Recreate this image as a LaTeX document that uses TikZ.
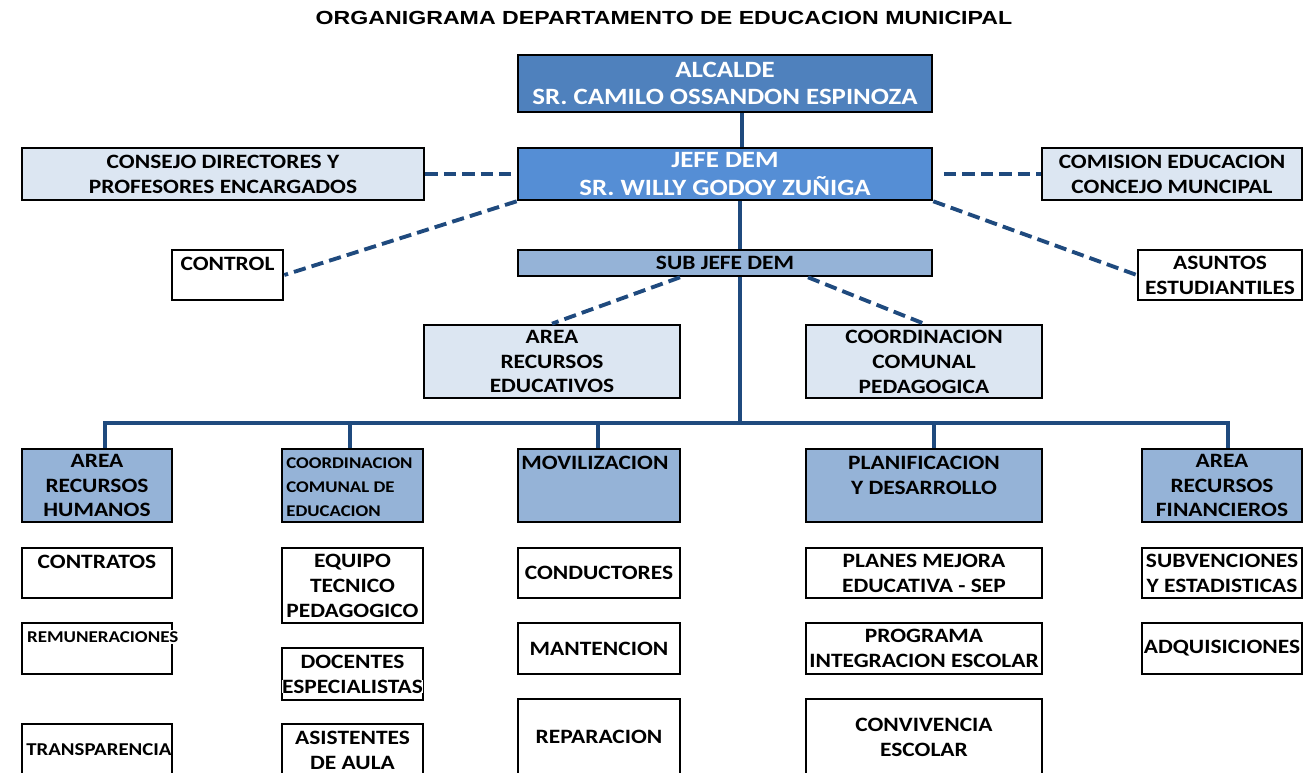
\documentclass[tikz,border=0pt]{standalone}
\usepackage{fontspec}
\setmainfont{Carlito}[FakeStretch=1.15]
\newfontfamily\titlefont{Liberation Sans}[FakeStretch=1.22]
\usepackage{tikz}
\usetikzlibrary{calc}
\usepackage{xcolor}

\definecolor{deplink}{HTML}{1F4A7E}
\definecolor{topblue}{HTML}{4F81BD}
\definecolor{jefeblue}{HTML}{558ED5}
\definecolor{midblue}{HTML}{95B3D7}
\definecolor{paleblue}{HTML}{DCE6F2}

% text that runs over a box border
\newcommand\overtext[1]{{\setlength{\fboxsep}{0pt}\colorbox{white}{#1}}}

\tikzset{sz/.style 2 args={minimum width=#1*0.02cm,minimum height=#2*0.02cm}}

\begin{document}
\begin{tikzpicture}[x=0.02cm,y=-0.02cm,
box/.style={draw=black,line width=1.5pt,inner sep=0pt,align=center,
  font=\bfseries\fontsize{11.6}{14.2}\selectfont},
txt/.style={inner sep=0pt,align=center,font=\bfseries\fontsize{11.6}{14.2}\selectfont},
big/.style={font=\bfseries\fontsize{13.3}{15.5}\selectfont,text=white},
link/.style={draw=deplink,line width=2.8pt},
dlink/.style={draw=deplink,line width=2.2pt,dash pattern=on 7pt off 3.5pt}]

\useasboundingbox (0,0) rectangle (1304,773);

\node (title) at (664,18) {\titlefont\bfseries\fontsize{10.8}{12}\selectfont ORGANIGRAMA DEPARTAMENTO DE EDUCACION MUNICIPAL};

% top of the chart
\node[box,big,fill=topblue,sz={414}{57}] (alcalde) at (725,83.5) {ALCALDE\\SR. CAMILO OSSANDON ESPINOZA};
\node[box,big,fill=jefeblue,sz={414}{52}] (jefe) at (725,174) {JEFE DEM\\SR. WILLY GODOY ZU\~NIGA};
\node[box,fill=paleblue,sz={402}{52}] (consejo) at (223,174) {CONSEJO DIRECTORES Y\\PROFESORES ENCARGADOS};
\node[box,fill=paleblue,sz={260}{52}] (comision) at (1172,174) {COMISION EDUCACION\\CONCEJO MUNCIPAL};
\node[box,fill=white,sz={111}{50}] (control) at (227.5,275) {};
\node[txt] (control-t) at (227.5,264) {CONTROL};
\node[box,fill=midblue,sz={414}{26}] (subjefe) at (725,263) {SUB JEFE DEM};
\node[box,fill=white,sz={164}{50}] (asuntos) at (1220,275) {ASUNTOS\\ESTUDIANTILES};
\node[box,fill=paleblue,sz={256}{73}] (areaeduc) at (552,361.5) {AREA\\RECURSOS\\EDUCATIVOS};
\node[box,fill=paleblue,sz={236}{73}] (coordped) at (924,361.5) {COORDINACION\\COMUNAL\\PEDAGOGICA};

% departments
\node[box,fill=midblue,sz={150}{73}] (rrhh) at (97,485.5) {AREA\\RECURSOS\\HUMANOS};
\node[box,fill=midblue,sz={141}{73}] (coordedu) at (352.5,485.5) {};
\node[txt,anchor=west,align=left,font=\bfseries\fontsize{9.3}{13.6}\selectfont] (coordedu-t) at (286,487) {COORDINACION\\COMUNAL DE\\EDUCACION};
\node[box,fill=midblue,sz={162}{73}] (moviliz) at (599,485.5) {};
\node[txt,anchor=west] (moviliz-t) at (521,463) {MOVILIZACION};
\node[box,fill=midblue,sz={236}{73}] (planif) at (924,485.5) {};
\node[txt] (planif-t) at (924,475) {PLANIFICACION\\Y DESARROLLO};
\node[box,fill=midblue,sz={160}{73}] (finan) at (1222,485.5) {AREA\\RECURSOS\\FINANCIEROS};

% units
\node[box,sz={150}{50}] (contratos) at (97,573) {};
\node[txt] (contratos-t) at (97,562) {CONTRATOS};
\node[box,sz={150}{51}] (remun) at (97,648.5) {};
\node[txt,anchor=west,fill=white,inner sep=1pt,font=\bfseries\fontsize{9.4}{10}\selectfont] (remun-t) at (25,637) {REMUNERACIONES};
\node[box,sz={150}{56}] (transp) at (97,752) {};
\node[txt,anchor=west,font=\bfseries\fontsize{10.3}{12}\selectfont] (transp-t) at (26,750) {TRANSPARENCIA};

\node[box,sz={141}{75}] (equipo) at (352.5,585.5) {EQUIPO\\TECNICO\\PEDAGOGICO};
\node[box,sz={141}{52}] (docentes) at (352.5,674) {DOCENTES\\\overtext{ESPECIALISTAS}};
\node[box,sz={141}{56}] (asist) at (352.5,752) {};
\node[txt] (asist-t) at (352.5,750) {ASISTENTES\\DE AULA};

\node[box,sz={162}{50}] (conduct) at (599,573) {CONDUCTORES};
\node[box,sz={162}{51}] (manten) at (599,648.5) {MANTENCION};
\node[box,sz={162}{81}] (repar) at (599,739.5) {};
\node[txt] (repar-t) at (599,737) {REPARACION};

\node[box,sz={236}{50}] (planes) at (924,573) {PLANES MEJORA\\EDUCATIVA - SEP};
\node[box,sz={236}{51}] (programa) at (924,648.5) {PROGRAMA\\INTEGRACION ESCOLAR};
\node[box,sz={236}{81}] (conviv) at (924,739.5) {};
\node[txt] (conviv-t) at (924,737) {CONVIVENCIA\\ESCOLAR};

\node[box,sz={160}{50}] (subven) at (1222,573) {\overtext{SUBVENCIONES}\\\overtext{Y ESTADISTICAS}};
\node[box,sz={160}{51}] (adquis) at (1222,648.5) {\overtext{ADQUISICIONES}};

% solid lines
\coordinate (bus) at (740,423);
\draw[link] (alcalde.south -| 742,0) -- (jefe.north -| 742,0);
\draw[link] (jefe.south -| 740,0) -- (subjefe.north -| 740,0);
\draw[link] (subjefe.south -| 740,0) -- (bus);
\draw[link,line join=miter] (rrhh.north -| 105,0) |- (bus) -| (finan.north -| 1228,0);
\draw[link] (coordedu.north -| 350,0) -- (bus -| 350,0);
\draw[link] (moviliz.north -| 598,0) -- (bus -| 598,0);
\draw[link] (planif.north -| 934,0) -- (bus -| 934,0);

% dashed lines
\draw[dlink] (consejo.east) -- (jefe.west);
\draw[dlink,shorten <=6pt] (jefe.east) -- (comision.west);
\draw[dlink] (jefe.south west) -- (control.east);
\draw[dlink] (jefe.south east) -- (asuntos.west);
\draw[dlink] (subjefe.south -| 680,0) -- (areaeduc.north);
\draw[dlink] (subjefe.south -| 808,0) -- (coordped.north);
\end{tikzpicture}
\end{document}
